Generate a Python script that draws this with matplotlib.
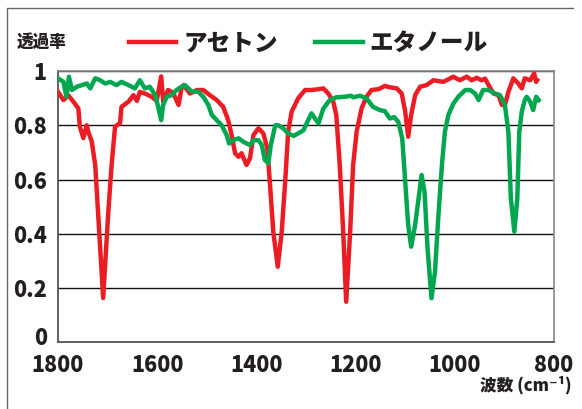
import matplotlib
matplotlib.use("Agg")
import matplotlib.pyplot as plt
from matplotlib.lines import Line2D
from matplotlib.transforms import ScaledTranslation

plt.rcParams['font.family'] = ['Noto Sans CJK JP', 'DejaVu Sans']

# Acetone spectrum (wavenumber, transmittance)
acetone_x = [1800, 1789, 1779, 1769, 1759, 1756, 1749, 1742, 1739, 1732,
             1725, 1719, 1709, 1699, 1692, 1685, 1675, 1672, 1658, 1648,
             1641, 1635, 1625, 1611, 1601, 1592, 1588, 1578, 1568, 1557,
             1551, 1547, 1534, 1520, 1507, 1494, 1480, 1467, 1457, 1450,
             1443, 1436, 1430, 1420, 1413, 1406, 1396, 1386, 1378, 1373,
             1366, 1357, 1349, 1342, 1336, 1329, 1316, 1302, 1289, 1275,
             1265, 1255, 1245, 1239, 1232, 1225, 1219, 1211, 1205, 1198,
             1188, 1178, 1168, 1154, 1141, 1131, 1117, 1107, 1100, 1094,
             1088, 1080, 1070, 1057, 1043, 1023, 1003, 990, 976, 966,
             956, 946, 939, 932, 922, 912, 905, 899, 892, 882,
             872, 865, 859, 848, 840, 836, 834]
acetone_y = [0.923, 0.893, 0.91, 0.887, 0.862, 0.795, 0.753, 0.80, 0.776, 0.74,
             0.654, 0.47, 0.164, 0.47, 0.654, 0.795, 0.808, 0.868, 0.887, 0.911,
             0.89, 0.923, 0.917, 0.905, 0.89, 0.98, 0.887, 0.93, 0.92, 0.875,
             0.937, 0.948, 0.917, 0.93, 0.93, 0.911, 0.893, 0.868, 0.819, 0.764,
             0.697, 0.684, 0.697, 0.654, 0.678, 0.764, 0.789, 0.770, 0.715, 0.592,
             0.408, 0.279, 0.408, 0.592, 0.776, 0.85, 0.899, 0.93, 0.93, 0.933,
             0.936, 0.917, 0.887, 0.838, 0.654, 0.408, 0.15, 0.408, 0.654, 0.776,
             0.862, 0.905, 0.93, 0.933, 0.945, 0.94, 0.936, 0.917, 0.85, 0.758,
             0.838, 0.911, 0.942, 0.948, 0.966, 0.96, 0.979, 0.966, 0.979, 0.966,
             0.975, 0.966, 0.972, 0.948, 0.917, 0.911, 0.875, 0.875, 0.923, 0.973,
             0.954, 0.936, 0.973, 0.966, 0.991, 0.96, 0.966]

# Ethanol spectrum
ethanol_x = [1800, 1789, 1783, 1778, 1772, 1762, 1752, 1742, 1735, 1725,
             1715, 1705, 1695, 1682, 1672, 1658, 1645, 1635, 1625, 1615,
             1604, 1598, 1592, 1588, 1581, 1571, 1561, 1551, 1544, 1530,
             1517, 1507, 1497, 1490, 1480, 1470, 1460, 1455, 1447, 1436,
             1426, 1413, 1406, 1396, 1389, 1383, 1376, 1371, 1362, 1356,
             1346, 1336, 1325, 1316, 1305, 1298, 1289, 1275, 1265, 1252,
             1239, 1222, 1209, 1205, 1191, 1178, 1165, 1151, 1141, 1131,
             1122, 1114, 1106, 1100, 1094, 1088, 1080, 1073, 1067, 1061,
             1055, 1047, 1040, 1033, 1026, 1020, 1013, 1003, 993, 979,
             969, 959, 952, 943, 932, 919, 909, 899, 892, 887,
             880, 874, 870, 865, 859, 855, 848, 842, 836, 831]
ethanol_y = [0.973, 0.96, 0.905, 0.979, 0.93, 0.942, 0.948, 0.954, 0.936, 0.973,
             0.966, 0.954, 0.96, 0.948, 0.96, 0.948, 0.936, 0.966, 0.936, 0.942,
             0.911, 0.868, 0.819, 0.875, 0.905, 0.911, 0.93, 0.942, 0.948, 0.923,
             0.923, 0.905, 0.875, 0.838, 0.819, 0.80, 0.764, 0.733, 0.745, 0.752,
             0.739, 0.727, 0.745, 0.745, 0.727, 0.672, 0.66, 0.727, 0.80, 0.80,
             0.789, 0.770, 0.761, 0.770, 0.782, 0.81, 0.844, 0.807, 0.862, 0.893,
             0.903, 0.905, 0.909, 0.903, 0.909, 0.899, 0.868, 0.856, 0.852, 0.825,
             0.83, 0.813, 0.752, 0.592, 0.433, 0.353, 0.433, 0.531, 0.617, 0.555,
             0.347, 0.163, 0.26, 0.47, 0.654, 0.776, 0.838, 0.88, 0.905, 0.93,
             0.93, 0.917, 0.893, 0.93, 0.93, 0.917, 0.911, 0.875, 0.776, 0.531,
             0.408, 0.531, 0.776, 0.85, 0.893, 0.905, 0.887, 0.856, 0.905, 0.893]

x_ticks = [1800, 1600, 1400, 1200, 1000, 800]
y_ticks = [0, 0.2, 0.4, 0.6, 0.8, 1]
y_tick_labels = ["0", "0.2", "0.4", "0.6", "0.8", "1"]

RED = "#EB1C24"
GREEN = "#00A650"
TXT = "#231F20"

fig = plt.figure(figsize=(5.82, 4.09), dpi=100)
ax = fig.add_axes([0.0997, 0.1626, 0.8522, 0.6638])

ax.plot(acetone_x, acetone_y, color=RED, lw=3.2, solid_joinstyle="round",
        label="アセトン", zorder=3)
ax.plot(ethanol_x, ethanol_y, color=GREEN, lw=3.2, solid_joinstyle="round",
        label="エタノール", zorder=4)

ax.set_xlim(1800, 800)
ax.set_ylim(0, 1)
ax.set_xticks(x_ticks)
ax.set_xticklabels([str(v) for v in x_ticks])
ax.set_yticks(y_ticks)
ax.set_yticklabels(y_tick_labels)
ax.tick_params(length=0, labelsize=15.5, colors=TXT, pad=8)
for lab in ax.get_xticklabels() + ax.get_yticklabels():
    lab.set_fontweight("heavy")

# the "0" label sits a little above the axis line in the original
zero_lab = ax.get_yticklabels()[0]
zero_lab.set_transform(zero_lab.get_transform()
                       + ScaledTranslation(0, 5 / 72, fig.dpi_scale_trans))

ax.grid(axis="y", color="#111111", lw=1)
for s in ["left", "bottom"]:
    ax.spines[s].set_color("#555555")
    ax.spines[s].set_linewidth(1.3)
for s in ["top", "right"]:
    ax.spines[s].set_color("#888888")
    ax.spines[s].set_linewidth(1.2)

leg = fig.legend(loc="center left", bbox_to_anchor=(0.205, 0.895), ncol=2,
                 frameon=False, handlelength=2.0, handletextpad=0.3,
                 columnspacing=1.6, borderaxespad=0,
                 prop={"size": 17, "weight": "heavy"})
for t in leg.get_texts():
    t.set_color(TXT)

fig.text(0.029, 0.898, "透過率", fontsize=12, fontweight="heavy", color=TXT,
         va="center", ha="left")
fig.text(0.983, 0.059, "波数 (cm⁻¹)", fontsize=12, fontweight="heavy",
         color=TXT, va="center", ha="right")

# outer frame (top and left edges)
fig.add_artist(Line2D([0.012, 0.012, 0.9845], [0.0, 0.9804, 0.9804],
                      transform=fig.transFigure, color="#666666", lw=1))

fig.savefig("out.png", dpi=100)
